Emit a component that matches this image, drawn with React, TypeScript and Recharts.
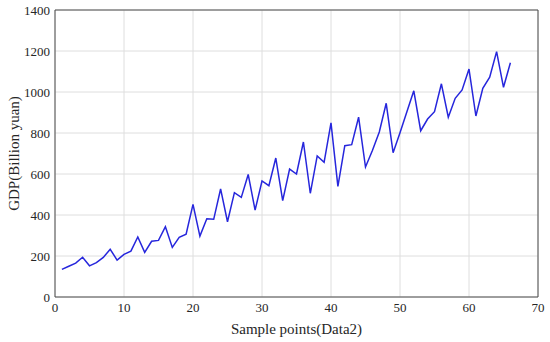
import React from "react";
import { LineChart, Line, XAxis, YAxis, CartesianGrid } from "recharts";

const samplePoints = [
  1, 2, 3, 4, 5, 6, 7, 8, 9, 10, 11, 12, 13, 14, 15, 16, 17, 18, 19, 20, 21, 22,
  23, 24, 25, 26, 27, 28, 29, 30, 31, 32, 33, 34, 35, 36, 37, 38, 39, 40, 41, 42,
  43, 44, 45, 46, 47, 48, 49, 50, 51, 52, 53, 54, 55, 56, 57, 58, 59, 60, 61, 62,
  63, 64, 65, 66,
];

const gdpValues = [
  135, 150, 165, 194, 152, 168, 193, 233, 180, 208,
  224, 293, 218, 272, 276, 343, 242, 291, 306, 452,
  297, 382, 379, 527, 367, 509, 486, 598, 424, 566,
  543, 678, 470, 624, 600, 756, 506, 688, 657, 849,
  540, 738, 743, 877, 634, 715, 805, 945, 704, 801,
  904, 1006, 811, 868, 904, 1040, 877, 969, 1010, 1112,
  883, 1018, 1072, 1197, 1023, 1143,
];

const xTicks = [0, 10, 20, 30, 40, 50, 60, 70];
const yTicks = [0, 200, 400, 600, 800, 1000, 1200, 1400];

const data = samplePoints.map((x, i) => ({ x, gdp: gdpValues[i] }));

const FONT = "'Liberation Serif', 'Times New Roman', serif";
const AXIS = "#4d4d4d";

export default function App() {
  return (
    <div style={{ position: "absolute", left: 0, top: 0, width: 550, height: 342, background: "#fff" }}>
      <LineChart width={550} height={342} data={data} margin={{ top: 10, right: 12, left: 0, bottom: 0 }}>
        <CartesianGrid stroke="#dedede" strokeWidth={1} />
        <XAxis
          xAxisId={0}
          dataKey="x"
          type="number"
          domain={[0, 70]}
          ticks={xTicks}
          height={45}
          tickLine={false}
          tickSize={0}
          tickMargin={6}
          axisLine={{ stroke: AXIS }}
          tick={{ fill: "#262626", fontSize: 13, fontFamily: FONT }}
          label={{ value: "Sample points(Data2)", position: "center", dy: 9, fill: "#262626", fontSize: 15, fontFamily: FONT }}
        />
        <XAxis xAxisId="bin" dataKey="x" type="number" domain={[0, 70]} ticks={xTicks} orientation="bottom" mirror tick={false} axisLine={false} tickLine={{ stroke: AXIS }} tickSize={5} />
        <XAxis xAxisId="top" dataKey="x" type="number" domain={[0, 70]} ticks={xTicks} orientation="top" mirror tick={false} axisLine={{ stroke: AXIS }} tickLine={{ stroke: AXIS }} tickSize={5} />
        <YAxis
          yAxisId={0}
          type="number"
          domain={[0, 1400]}
          ticks={yTicks}
          width={55}
          tickLine={false}
          tickSize={0}
          tickMargin={5}
          axisLine={{ stroke: AXIS }}
          tick={{ fill: "#262626", fontSize: 13, fontFamily: FONT }}
          label={{ value: "GDP(Billion yuan)", angle: -90, position: "center", dx: -14, fill: "#262626", fontSize: 15, fontFamily: FONT }}
        />
        <YAxis yAxisId="lin" type="number" domain={[0, 1400]} ticks={yTicks} orientation="left" mirror tick={false} axisLine={false} tickLine={{ stroke: AXIS }} tickSize={5} />
        <YAxis yAxisId="right" type="number" domain={[0, 1400]} ticks={yTicks} orientation="right" mirror tick={false} axisLine={{ stroke: AXIS }} tickLine={{ stroke: AXIS }} tickSize={5} />
        <Line
          xAxisId={0}
          yAxisId={0}
          type="linear"
          dataKey="gdp"
          stroke="#2626dc"
          strokeWidth={1.5}
          dot={false}
          isAnimationActive={false}
        />
      </LineChart>
    </div>
  );
}
